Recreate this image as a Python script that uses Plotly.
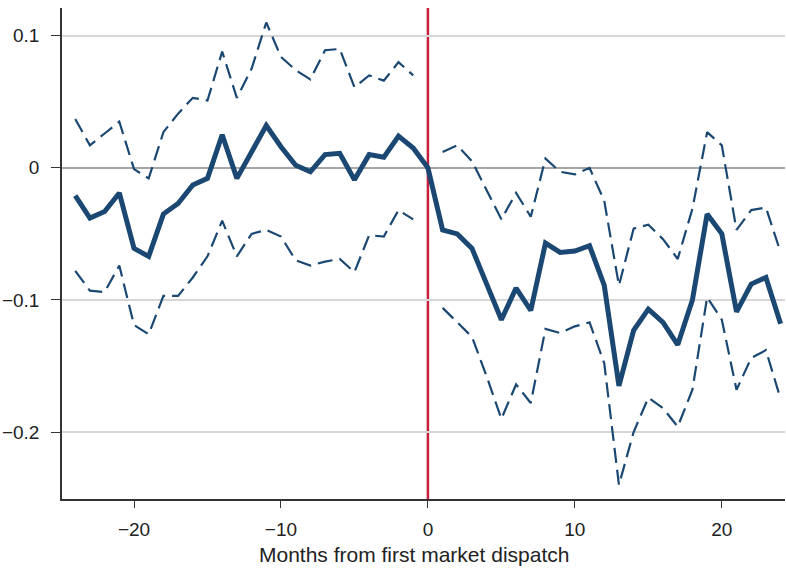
import plotly.graph_objects as go

# Event-time coefficients (months relative to first market dispatch)
months_pre = list(range(-24, 1))
months_post = list(range(0, 25))

coef_pre = [-0.021, -0.038, -0.033, -0.019, -0.061, -0.067, -0.035, -0.027, -0.013, -0.008,
            0.025, -0.008, 0.012, 0.032, 0.016, 0.002, -0.003, 0.010, 0.011, -0.009,
            0.010, 0.008, 0.024, 0.015, 0.0]
coef_post = [0.0, -0.047, -0.050, -0.061, -0.088, -0.115, -0.091, -0.108, -0.057, -0.064,
             -0.063, -0.059, -0.089, -0.165, -0.123, -0.107, -0.117, -0.134, -0.100, -0.035,
             -0.050, -0.109, -0.088, -0.083, -0.118]

# 95% confidence bounds (no interval at the reference month)
ci_months_pre = list(range(-24, 0))
ci_months_post = list(range(1, 25))
upper_pre = [0.037, 0.017, 0.026, 0.035, -0.001, -0.008, 0.027, 0.041, 0.053, 0.051,
             0.088, 0.053, 0.075, 0.110, 0.084, 0.074, 0.067, 0.089, 0.090, 0.061,
             0.070, 0.066, 0.080, 0.070]
lower_pre = [-0.078, -0.093, -0.094, -0.074, -0.119, -0.126, -0.097, -0.097, -0.083, -0.067,
             -0.040, -0.067, -0.050, -0.047, -0.052, -0.070, -0.074, -0.071, -0.069, -0.079,
             -0.051, -0.052, -0.032, -0.039]
upper_post = [0.012, 0.017, 0.005, -0.017, -0.039, -0.019, -0.037, 0.007, -0.003, -0.005,
              0.000, -0.025, -0.089, -0.046, -0.043, -0.054, -0.069, -0.031, 0.027, 0.017,
              -0.047, -0.032, -0.030, -0.064]
lower_post = [-0.106, -0.117, -0.128, -0.158, -0.190, -0.164, -0.178, -0.122, -0.125, -0.120,
              -0.117, -0.148, -0.240, -0.200, -0.174, -0.182, -0.196, -0.168, -0.098, -0.115,
              -0.168, -0.144, -0.138, -0.175]

x_ticks = [-20, -10, 0, 10, 20]
x_tick_labels = ["\u221220", "\u221210", "0", "10", "20"]
y_ticks = [-0.2, -0.1, 0, 0.1]
y_tick_labels = ["\u22120.2", "\u22120.1", "0", "0.1"]

BLUE = "#1b4872"
RED = "#c8203a"
FONT = "Liberation Sans, Arial, sans-serif"

fig = go.Figure()

dash_style = dict(color=BLUE, width=2.2, dash="15px,7px")
for xs, ys in [(ci_months_pre, upper_pre), (ci_months_pre, lower_pre),
               (ci_months_post, upper_post), (ci_months_post, lower_post)]:
    fig.add_trace(go.Scatter(x=xs, y=ys, mode="lines", line=dash_style,
                             showlegend=False, hoverinfo="skip"))

fig.add_trace(go.Scatter(x=months_pre + months_post[1:], y=coef_pre + coef_post[1:],
                         mode="lines", line=dict(color=BLUE, width=5),
                         showlegend=False))

# Treatment onset
fig.add_shape(type="line", x0=0, x1=0, y0=0, y1=1, yref="paper",
              line=dict(color=RED, width=2.5), layer="below")

# X-axis title
fig.add_annotation(text="Months from first market dispatch", xref="paper", yref="paper",
                   x=0.487, y=0, yshift=-55, xanchor="center", yanchor="middle",
                   showarrow=False, font=dict(size=21, color="#222222"))

fig.update_layout(
    width=786, height=568,
    margin=dict(l=62, r=1, t=8, b=69),
    plot_bgcolor="white", paper_bgcolor="white",
    font=dict(family=FONT, size=19, color="#222222"),
    xaxis=dict(
        range=[-24.9, 24.3], tickvals=x_ticks, ticktext=x_tick_labels,
        showgrid=False, zeroline=False,
        showline=True, linecolor="#333333", linewidth=1.5,
        ticks="outside", ticklen=7, tickwidth=1.3, tickcolor="#333333",
        ticklabelstandoff=5,
    ),
    yaxis=dict(
        range=[-0.2507, 0.121], tickvals=y_ticks, ticktext=y_tick_labels,
        showgrid=True, gridcolor="#d6d6d6", gridwidth=1.5,
        zeroline=True, zerolinecolor="#a6a6a6", zerolinewidth=2,
        showline=True, linecolor="#333333", linewidth=1.5,
        ticks="outside", ticklen=9, tickwidth=1.3, tickcolor="#333333",
        ticklabelstandoff=8,
    ),
)

fig.write_html("out.html")
